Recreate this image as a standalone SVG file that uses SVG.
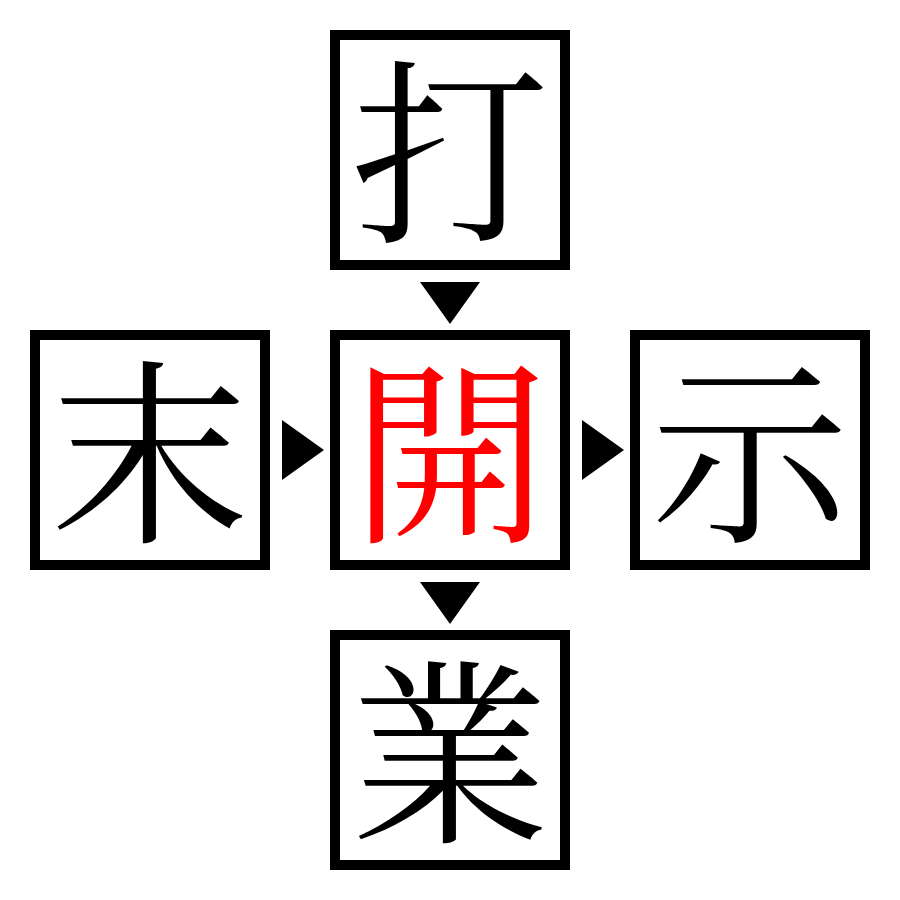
<svg xmlns="http://www.w3.org/2000/svg" width="900" height="900" viewBox="0 0 900 900">
<style>
.box{fill:#fff;stroke:#000;stroke-width:10}
.ch{font-family:"Noto Serif CJK JP","Noto Sans CJK JP","Noto Sans CJK TC",serif;font-size:198px;text-anchor:middle;dominant-baseline:central}
.arr{fill:#000}
</style>
<rect width="900" height="900" fill="#fff"/>
<g id="node-top"><rect class="box" x="335" y="35" width="230" height="230"/><text class="ch" x="450" y="141">打</text></g>
<g id="node-left"><rect class="box" x="35" y="335" width="230" height="230"/><text class="ch" x="150" y="441">末</text></g>
<g id="node-center"><rect class="box" x="335" y="335" width="230" height="230"/><text class="ch" x="450" y="441" fill="#f00">開</text></g>
<g id="node-right"><rect class="box" x="635" y="335" width="230" height="230"/><text class="ch" x="750" y="441">示</text></g>
<g id="node-bottom"><rect class="box" x="335" y="635" width="230" height="230"/><text class="ch" x="450" y="741">業</text></g>
<g id="connectors">
<polygon class="arr" points="420,282 480,282 450,324"/>
<polygon class="arr" points="282,420 282,480 324,450"/>
<polygon class="arr" points="582,420 582,480 624,450"/>
<polygon class="arr" points="420,582 480,582 450,624"/>
</g>
</svg>
